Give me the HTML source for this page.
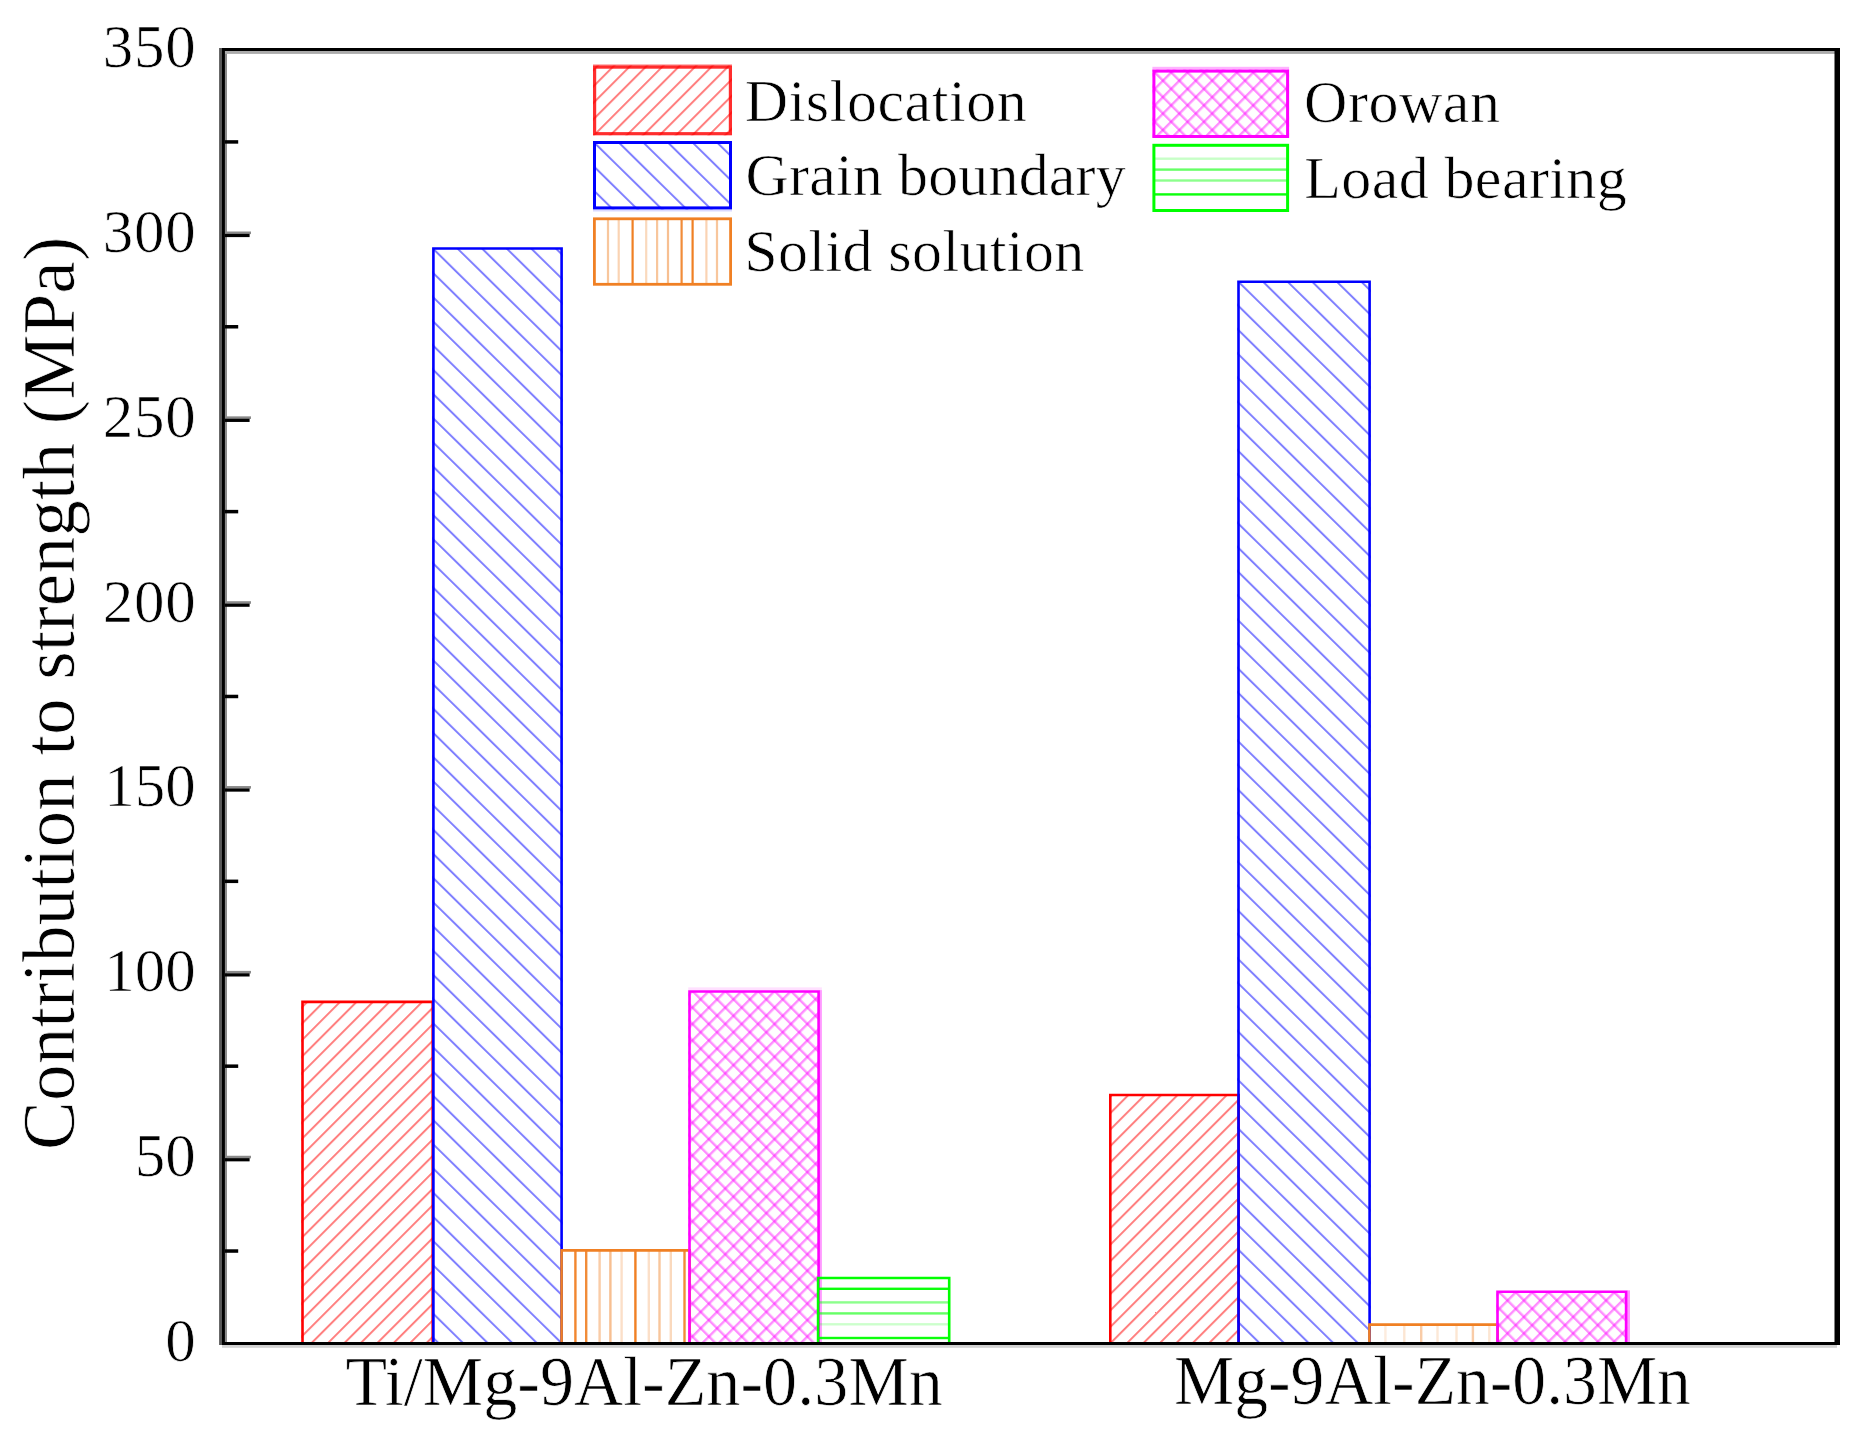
<!DOCTYPE html>
<html lang="en"><head><meta charset="utf-8"><title>Contribution to strength</title>
<style>
html,body{margin:0;padding:0;background:#fff;}
body{width:1855px;height:1439px;overflow:hidden;}
svg{display:block;}
text{font-family:"Liberation Serif","Times New Roman",serif;fill:#000;stroke:#fff;stroke-width:0.7px;}
</style></head><body>
<svg width="1855" height="1439" viewBox="0 0 1855 1439">
<defs>
<pattern id="pr" patternUnits="userSpaceOnUse" width="11.6213" height="40" patternTransform="rotate(44.9477) translate(6.198 0)"><rect x="0" y="0" width="2.0" height="40" fill="#ff0000" fill-opacity="0.5"/></pattern>
<pattern id="pr2" patternUnits="userSpaceOnUse" width="11.6213" height="40" patternTransform="rotate(44.9477) translate(2.327 0)"><rect x="0" y="0" width="2.0" height="40" fill="#ff0000" fill-opacity="0.5"/></pattern>
<pattern id="prl" patternUnits="userSpaceOnUse" width="11.6213" height="40" patternTransform="rotate(44.9477) translate(3.567 0)"><rect x="0" y="0" width="2.0" height="40" fill="#ff0000" fill-opacity="0.5"/></pattern>
<pattern id="pb" patternUnits="userSpaceOnUse" width="17.2517" height="40" patternTransform="rotate(-45.4696) translate(4.654 0)"><rect x="0" y="0" width="2.0" height="40" fill="#0000ff" fill-opacity="0.5"/></pattern>
<pattern id="pb2" patternUnits="userSpaceOnUse" width="17.2517" height="40" patternTransform="rotate(-45.4696) translate(11.105 0)"><rect x="0" y="0" width="2.0" height="40" fill="#0000ff" fill-opacity="0.5"/></pattern>
<pattern id="pbl" patternUnits="userSpaceOnUse" width="17.2517" height="40" patternTransform="rotate(-45.4696) translate(3.566 0)"><rect x="0" y="0" width="2.0" height="40" fill="#0000ff" fill-opacity="0.5"/></pattern>
<pattern id="pm1" patternUnits="userSpaceOnUse" width="11.6213" height="40" patternTransform="rotate(44.9477) translate(3.696 0)"><rect x="0" y="0" width="2.4" height="40" fill="#ff00ff" fill-opacity="0.45"/></pattern>
<pattern id="pm2" patternUnits="userSpaceOnUse" width="11.6213" height="40" patternTransform="rotate(-44.9477) translate(9.560 0)"><rect x="0" y="0" width="2.4" height="40" fill="#ff00ff" fill-opacity="0.45"/></pattern>
<pattern id="pm1b" patternUnits="userSpaceOnUse" width="11.6213" height="40" patternTransform="rotate(44.9477) translate(8.941 0)"><rect x="0" y="0" width="2.4" height="40" fill="#ff00ff" fill-opacity="0.45"/></pattern>
<pattern id="pm2b" patternUnits="userSpaceOnUse" width="11.6213" height="40" patternTransform="rotate(-44.9477) translate(7.599 0)"><rect x="0" y="0" width="2.4" height="40" fill="#ff00ff" fill-opacity="0.45"/></pattern>
<pattern id="pm1l" patternUnits="userSpaceOnUse" width="11.6213" height="40" patternTransform="rotate(44.9477) translate(7.295 0)"><rect x="0" y="0" width="2.4" height="40" fill="#ff00ff" fill-opacity="0.45"/></pattern>
<pattern id="pm2l" patternUnits="userSpaceOnUse" width="11.6213" height="40" patternTransform="rotate(-44.9477) translate(9.556 0)"><rect x="0" y="0" width="2.4" height="40" fill="#ff00ff" fill-opacity="0.45"/></pattern>
</defs>
<g id="bars">
<rect x="301.20" y="1001.90" width="132.30" height="340.10" fill="url(#pr)"/>
<path d="M302.50 1342.0 V1001.90 H432.70 V1342.0" fill="none" stroke="#ff0000" stroke-width="2.6" stroke-linejoin="miter"/>
<rect x="432.10" y="248.45" width="130.60" height="1093.55" fill="url(#pb)"/>
<path d="M433.40 1342.0 V248.45 H561.60 V1342.0" fill="none" stroke="#0000ff" stroke-width="2.6" stroke-linejoin="miter"/>
<rect x="574.20" y="1250.34" width="2.4" height="91.66" fill="#f08024" fill-opacity="0.95"/>
<rect x="585.00" y="1250.34" width="2.4" height="91.66" fill="#f08024" fill-opacity="0.9"/>
<rect x="598.40" y="1250.34" width="2.4" height="91.66" fill="#f08024" fill-opacity="0.4"/>
<rect x="609.20" y="1250.34" width="2.4" height="91.66" fill="#f08024" fill-opacity="0.5"/>
<rect x="620.40" y="1250.34" width="2.4" height="91.66" fill="#f08024" fill-opacity="0.25"/>
<rect x="634.20" y="1250.34" width="2.4" height="91.66" fill="#f08024" fill-opacity="1.0"/>
<rect x="647.60" y="1250.34" width="2.4" height="91.66" fill="#f08024" fill-opacity="0.25"/>
<rect x="658.30" y="1250.34" width="2.4" height="91.66" fill="#f08024" fill-opacity="0.45"/>
<rect x="669.60" y="1250.34" width="2.4" height="91.66" fill="#f08024" fill-opacity="0.3"/>
<rect x="683.30" y="1250.34" width="2.4" height="91.66" fill="#f08024" fill-opacity="0.9"/>
<path d="M561.60 1342.0 V1250.34 H689.70 V1342.0" fill="none" stroke="#f08024" stroke-width="2.6" stroke-linejoin="miter"/>
<rect x="688.20" y="991.55" width="131.50" height="350.45" fill="url(#pm1)"/>
<rect x="688.20" y="991.55" width="131.50" height="350.45" fill="url(#pm2)"/>
<rect x="688.2" y="987.35" width="133.7" height="3" fill="#ff00ff" fill-opacity="0.12"/>
<rect x="819.5" y="990.15" width="2.4" height="351.85" fill="#ff00ff" fill-opacity="0.4"/>
<path d="M689.50 1342.0 V991.55 H818.60 V1342.0" fill="none" stroke="#ff00ff" stroke-width="2.6" stroke-linejoin="miter"/>
<rect x="817.00" y="1287.60" width="133.00" height="2.4" fill="#00ff00" fill-opacity="0.95"/>
<rect x="817.00" y="1301.20" width="133.00" height="2.4" fill="#00ff00" fill-opacity="0.45"/>
<rect x="817.00" y="1312.20" width="133.00" height="2.4" fill="#00ff00" fill-opacity="0.6"/>
<rect x="817.00" y="1323.10" width="133.00" height="2.4" fill="#00ff00" fill-opacity="0.2"/>
<rect x="817.00" y="1336.80" width="133.00" height="2.4" fill="#00ff00" fill-opacity="0.95"/>
<path d="M818.10 1342.0 V1278.06 H949.20 V1342.0" fill="none" stroke="#00ff00" stroke-width="2.6" stroke-linejoin="miter"/>
<rect x="1109.00" y="1095.06" width="130.00" height="246.94" fill="url(#pr2)"/>
<path d="M1110.30 1342.0 V1095.06 H1238.70 V1342.0" fill="none" stroke="#ff0000" stroke-width="2.6" stroke-linejoin="miter"/>
<rect x="1237.20" y="281.72" width="133.70" height="1060.28" fill="url(#pb2)"/>
<path d="M1238.50 1342.0 V281.72 H1369.60 V1342.0" fill="none" stroke="#0000ff" stroke-width="2.6" stroke-linejoin="miter"/>
<rect x="1384.20" y="1324.65" width="2.4" height="17.35" fill="#f08024" fill-opacity="0.15"/>
<rect x="1403.10" y="1324.65" width="2.4" height="17.35" fill="#f08024" fill-opacity="0.2"/>
<rect x="1420.00" y="1324.65" width="2.4" height="17.35" fill="#f08024" fill-opacity="0.4"/>
<rect x="1436.30" y="1324.65" width="2.4" height="17.35" fill="#f08024" fill-opacity="0.18"/>
<rect x="1455.30" y="1324.65" width="2.4" height="17.35" fill="#f08024" fill-opacity="0.2"/>
<rect x="1471.70" y="1324.65" width="2.4" height="17.35" fill="#f08024" fill-opacity="0.4"/>
<rect x="1488.10" y="1324.65" width="2.4" height="17.35" fill="#f08024" fill-opacity="0.2"/>
<path d="M1369.40 1342.0 V1324.65 H1497.70 V1342.0" fill="none" stroke="#f08024" stroke-width="2.6" stroke-linejoin="miter"/>
<rect x="1496.20" y="1291.74" width="131.00" height="50.26" fill="url(#pm1b)"/>
<rect x="1496.20" y="1291.74" width="131.00" height="50.26" fill="url(#pm2b)"/>
<rect x="1627" y="1290.34" width="3" height="51.66" fill="#ff00ff" fill-opacity="0.4"/>
<path d="M1497.50 1342.0 V1291.74 H1626.10 V1342.0" fill="none" stroke="#ff00ff" stroke-width="2.6" stroke-linejoin="miter"/>
</g>
<g id="legend">
<rect x="593.00" y="65.50" width="139.00" height="69.80" fill="url(#prl)"/>
<rect x="594.60" y="67.10" width="135.80" height="66.60" fill="none" stroke="#ff0000" stroke-width="3.2" stroke-opacity="0.82"/>
<rect x="593" y="64.2" width="139" height="2" fill="#ff0000" fill-opacity="0.35"/>
<rect x="593.00" y="141.00" width="139.00" height="68.40" fill="url(#pbl)"/>
<rect x="594.50" y="142.50" width="136.00" height="65.40" fill="none" stroke="#0000ff" stroke-width="3.0" stroke-opacity="1.0"/>
<rect x="593" y="209.4" width="139" height="2.1" fill="#0000ff" fill-opacity="0.15"/>
<rect x="606.90" y="219.00" width="2.2" height="65.00" fill="#f08024" fill-opacity="0.45"/>
<rect x="617.60" y="219.00" width="2.2" height="65.00" fill="#f08024" fill-opacity="0.35"/>
<rect x="631.50" y="219.00" width="2.2" height="65.00" fill="#f08024" fill-opacity="1.0"/>
<rect x="645.10" y="219.00" width="2.2" height="65.00" fill="#f08024" fill-opacity="0.3"/>
<rect x="656.00" y="219.00" width="2.2" height="65.00" fill="#f08024" fill-opacity="0.45"/>
<rect x="666.90" y="219.00" width="2.2" height="65.00" fill="#f08024" fill-opacity="0.5"/>
<rect x="680.50" y="219.00" width="2.2" height="65.00" fill="#f08024" fill-opacity="0.9"/>
<rect x="691.50" y="219.00" width="2.2" height="65.00" fill="#f08024" fill-opacity="1.0"/>
<rect x="705.30" y="219.00" width="2.2" height="65.00" fill="#f08024" fill-opacity="0.35"/>
<rect x="715.90" y="219.00" width="2.2" height="65.00" fill="#f08024" fill-opacity="0.45"/>
<rect x="594.40" y="218.80" width="136.20" height="65.50" fill="none" stroke="#f08024" stroke-width="2.8" stroke-opacity="1.0"/>
<rect x="1152.40" y="69.60" width="136.70" height="68.40" fill="url(#pm1l)"/>
<rect x="1152.40" y="69.60" width="136.70" height="68.40" fill="url(#pm2l)"/>
<rect x="1153.90" y="71.10" width="133.70" height="65.40" fill="none" stroke="#ff00ff" stroke-width="3.0" stroke-opacity="1.0"/>
<rect x="1152.4" y="66.8" width="136.7" height="2.8" fill="#ff00ff" fill-opacity="0.3"/>
<rect x="1154.00" y="157.50" width="134.00" height="2.4" fill="#00ff00" fill-opacity="0.22"/>
<rect x="1154.00" y="168.40" width="134.00" height="2.4" fill="#00ff00" fill-opacity="0.6"/>
<rect x="1154.00" y="179.30" width="134.00" height="2.4" fill="#00ff00" fill-opacity="0.45"/>
<rect x="1154.00" y="193.20" width="134.00" height="2.4" fill="#00ff00" fill-opacity="0.95"/>
<rect x="1153.90" y="145.30" width="133.70" height="65.20" fill="none" stroke="#00ff00" stroke-width="3.0" stroke-opacity="1.0"/>
<text x="744.8" y="120.8" font-size="60" textLength="281.9">Dislocation</text>
<text x="745.5" y="195.0" font-size="60" textLength="380.2">Grain boundary</text>
<text x="744.3" y="271.0" font-size="60" textLength="340">Solid solution</text>
<text x="1304.1" y="122.4" font-size="60" textLength="195.8">Orowan</text>
<text x="1304.3" y="197.8" font-size="60" textLength="322.4">Load bearing</text>
</g>
<g id="axes">
<rect x="219.1" y="48" width="3" height="1297" fill="#585858"/>
<rect x="222" y="48" width="3" height="1297" fill="#000"/>
<rect x="224.9" y="51" width="2.1" height="1291" fill="#8c8c8c"/>
<rect x="222" y="48" width="1618" height="3" fill="#000"/>
<rect x="225" y="51" width="1610" height="2.9" fill="#ababab"/>
<rect x="1834.5" y="48" width="5.5" height="1297" fill="#000"/>
<rect x="222" y="1342" width="1618" height="3" fill="#000"/>
<rect x="222" y="1345" width="1615" height="2.8" fill="#d2d2d2"/>
<rect x="225" y="1249.28" width="13.2" height="3.5" fill="#000"/>
<rect x="225" y="1155.75" width="26" height="2.6" fill="#8a8a8a"/>
<rect x="225" y="1158.15" width="24.6" height="3.2" fill="#000"/>
<rect x="225" y="1064.42" width="13.2" height="3.5" fill="#000"/>
<rect x="225" y="970.90" width="26" height="2.6" fill="#8a8a8a"/>
<rect x="225" y="973.30" width="24.6" height="3.2" fill="#000"/>
<rect x="225" y="879.58" width="13.2" height="3.5" fill="#000"/>
<rect x="225" y="786.05" width="26" height="2.6" fill="#8a8a8a"/>
<rect x="225" y="788.45" width="24.6" height="3.2" fill="#000"/>
<rect x="225" y="694.73" width="13.2" height="3.5" fill="#000"/>
<rect x="225" y="601.20" width="26" height="2.6" fill="#8a8a8a"/>
<rect x="225" y="603.60" width="24.6" height="3.2" fill="#000"/>
<rect x="225" y="509.87" width="13.2" height="3.5" fill="#000"/>
<rect x="225" y="416.35" width="26" height="2.6" fill="#8a8a8a"/>
<rect x="225" y="418.75" width="24.6" height="3.2" fill="#000"/>
<rect x="225" y="325.02" width="13.2" height="3.5" fill="#000"/>
<rect x="225" y="231.50" width="26" height="2.6" fill="#8a8a8a"/>
<rect x="225" y="233.90" width="24.6" height="3.2" fill="#000"/>
<rect x="225" y="140.17" width="13.2" height="3.5" fill="#000"/>
</g>
<g id="labels">
<text x="165.3" y="1360.9" font-size="61" textLength="30.5">0</text>
<text x="134.8" y="1176.1" font-size="61" textLength="61">50</text>
<text x="104.3" y="991.2" font-size="61" textLength="91.5">100</text>
<text x="104.3" y="806.4" font-size="61" textLength="91.5">150</text>
<text x="102.8" y="621.5" font-size="61" textLength="93">200</text>
<text x="102.8" y="436.6" font-size="61" textLength="93">250</text>
<text x="102.8" y="251.8" font-size="61" textLength="93">300</text>
<text x="102.8" y="66.9" font-size="61" textLength="93">350</text>
<text x="345.5" y="1404.8" font-size="69.5" textLength="597.4" lengthAdjust="spacingAndGlyphs">Ti/Mg-9Al-Zn-0.3Mn</text>
<text x="1174.1" y="1404.2" font-size="69.5" textLength="516.8" lengthAdjust="spacingAndGlyphs">Mg-9Al-Zn-0.3Mn</text>
<text transform="translate(73.6 1150) rotate(-90)" font-size="73.2" textLength="913.3">Contribution to strength (MPa)</text>
</g>
</svg></body></html>
